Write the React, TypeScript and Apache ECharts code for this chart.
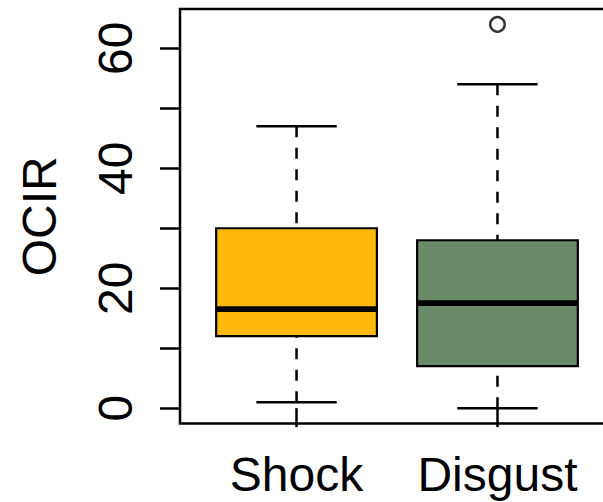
import React, { useEffect, useRef } from "react";
import * as echarts from "echarts";

const categories = ["Shock", "Disgust"];
const whiskerLow = [1, 0];
const quartile1 = [12, 7];
const medians = [16.5, 17.5];
const quartile3 = [30, 28];
const whiskerHigh = [47, 54];
const boxColors = ["#FFB90F", "#698B69"];
const outlierCategory = ["Disgust"];
const outlierValues = [64];
const yTickValues = [0, 10, 20, 30, 40, 50, 60];
const yLabelValues = [0, 20, 40, 60];

const FONT = "'Liberation Sans', Arial, Helvetica, sans-serif";

export default function App() {
  const ref = useRef<HTMLDivElement>(null);

  useEffect(() => {
    if (!ref.current) return;
    const chart = echarts.init(ref.current, null, { renderer: "svg" });

    const boxData = categories.map((c, i) => [
      i + 1,
      whiskerLow[i],
      quartile1[i],
      medians[i],
      quartile3[i],
      whiskerHigh[i],
    ]);
    const outlierData = outlierCategory.map((c, i) => [
      categories.indexOf(c) + 1,
      outlierValues[i],
    ]);

    const renderItem = (params: any, api: any) => {
      const x = api.value(0);
      const pLow = api.coord([x, api.value(1)]);
      const pQ1 = api.coord([x, api.value(2)]);
      const pMed = api.coord([x, api.value(3)]);
      const pQ3 = api.coord([x, api.value(4)]);
      const pHigh = api.coord([x, api.value(5)]);
      const cx = pMed[0];
      const hw = api.size([0.8, 0])[0] / 2;
      const cw = api.size([0.4, 0])[0] / 2;
      const color = boxColors[params.dataIndex];
      const wStyle = { stroke: "#000", lineWidth: 2.5, lineDash: [11, 10.5] };
      const cStyle = { stroke: "#000", lineWidth: 2.5 };
      return {
        type: "group",
        children: [
          {
            type: "line",
            shape: { x1: cx, y1: pHigh[1], x2: cx, y2: pQ3[1] },
            style: wStyle,
          },
          {
            type: "line",
            shape: { x1: cx, y1: pLow[1], x2: cx, y2: pQ1[1] },
            style: wStyle,
          },
          {
            type: "line",
            shape: { x1: cx - cw, y1: pHigh[1], x2: cx + cw, y2: pHigh[1] },
            style: cStyle,
          },
          {
            type: "line",
            shape: { x1: cx - cw, y1: pLow[1], x2: cx + cw, y2: pLow[1] },
            style: cStyle,
          },
          {
            type: "rect",
            shape: { x: cx - hw, y: pQ3[1], width: hw * 2, height: pQ1[1] - pQ3[1] },
            style: { fill: color, stroke: "#000", lineWidth: 2.2 },
          },
          {
            type: "line",
            shape: { x1: cx - hw, y1: pMed[1], x2: cx + hw, y2: pMed[1] },
            style: { stroke: "#000", lineWidth: 5.7 },
          },
        ],
      };
    };

    chart.setOption({
      animation: false,
      backgroundColor: "#fff",
      grid: {
        left: 180,
        top: 9,
        width: 434,
        height: 414.5,
        show: true,
        borderColor: "#000",
        borderWidth: 2.5,
        backgroundColor: "transparent",
        containLabel: false,
        outerBoundsMode: "none",
      },
      xAxis: {
        type: "value",
        min: 0.42,
        max: 2.58,
        axisLine: { show: false },
        splitLine: { show: false },
        axisTick: {
          show: true,
          customValues: [1, 2],
          length: 19,
          lineStyle: { color: "#000", width: 2.5 },
        },
        axisLabel: {
          customValues: [1, 2],
          formatter: (v: number) => categories[Math.round(v) - 1] ?? "",
          fontSize: 48,
          fontFamily: FONT,
          color: "#000",
          margin: 27,
        },
      },
      yAxis: {
        type: "value",
        min: -2.56,
        max: 66.56,
        axisLine: { show: false },
        splitLine: { show: false },
        axisTick: {
          show: true,
          customValues: yTickValues,
          length: 20,
          lineStyle: { color: "#000", width: 2.5 },
        },
        axisLabel: {
          customValues: yLabelValues,
          rotate: 90,
          fontSize: 48,
          fontFamily: FONT,
          color: "#000",
          margin: 41,
        },
        name: "OCIR",
        nameLocation: "middle",
        nameRotate: 90,
        nameGap: 117,
        nameTextStyle: { fontSize: 48, fontFamily: FONT, color: "#000" },
      },
      series: [
        {
          type: "custom",
          renderItem,
          encode: { x: 0, y: [1, 2, 3, 4, 5] },
          data: boxData,
          z: 2,
        },
        {
          type: "scatter",
          data: outlierData,
          symbol: "circle",
          symbolSize: 14.5,
          itemStyle: { color: "transparent", borderColor: "#000", borderWidth: 2.5 },
          z: 3,
        },
      ],
    });

    return () => chart.dispose();
  }, []);

  return (
    <div
      ref={ref}
      style={{ position: "fixed", left: 0, top: 0, width: 603, height: 502, background: "#fff" }}
    />
  );
}
